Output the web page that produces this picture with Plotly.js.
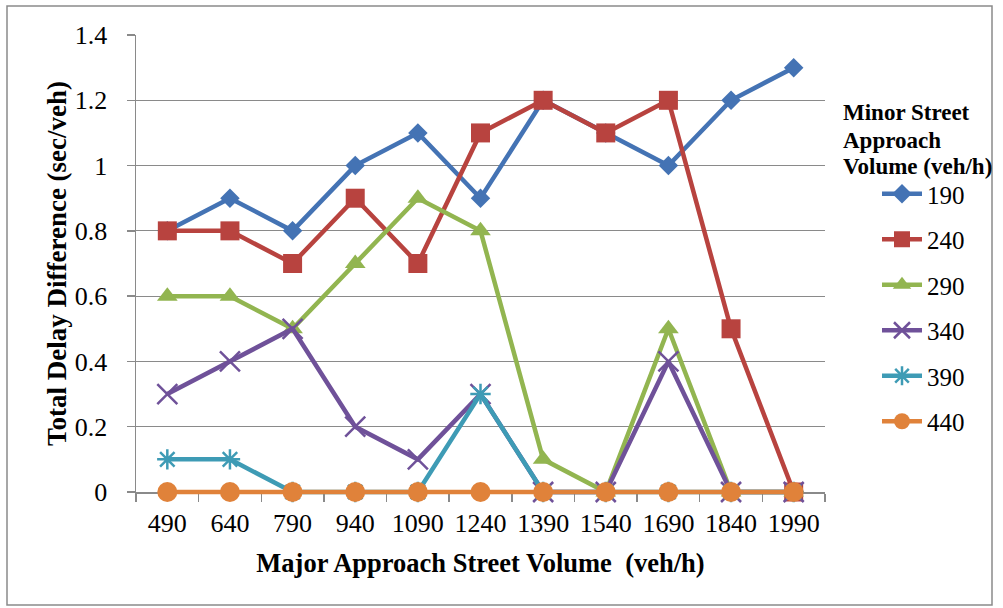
<!DOCTYPE html>
<html>
<head>
<meta charset="utf-8">
<script src="https://cdn.plot.ly/plotly-3.0.1.min.js"></script>
<style>
html,body{margin:0;padding:0;background:#fff;}
#chart{width:1003px;height:608px;}
</style>
</head>
<body>
<div id="chart"></div>
<script>
var categories = ["490","640","790","940","1090","1240","1390","1540","1690","1840","1990"];
var s190 = [0.8,0.9,0.8,1.0,1.1,0.9,1.2,1.1,1.0,1.2,1.3];
var s240 = [0.8,0.8,0.7,0.9,0.7,1.1,1.2,1.1,1.2,0.5,0];
var s290 = [0.6,0.6,0.5,0.7,0.9,0.8,0.1,0,0.5,0,0];
var s340 = [0.3,0.4,0.5,0.2,0.1,0.3,0,0,0.4,0,0];
var s390 = [0.1,0.1,0,0,0,0.3,0,0,0,0,0];
var s440 = [0,0,0,0,0,0,0,0,0,0,0];
var seriesNames = ["190","240","290","340","390","440"];
var legendTitleLines = ["Minor Street","Approach","Volume (veh/h)"];

var specs = [
  {y:s190, color:"#4473B4", symbol:"diamond", size:15, lw:0},
  {y:s240, color:"#B8433F", symbol:"square", size:19, lw:0},
  {y:s290, color:"#92B550", symbol:"triangle-up", size:18, lw:0},
  {y:s340, color:"#6F5199", symbol:"x-thin-open", size:20, lw:2.5},
  {y:s390, color:"#3E9BB5", symbol:"asterisk-open", size:17, lw:2.5},
  {y:s440, color:"#E0823A", symbol:"circle", size:20, lw:0}
];

var traces = specs.map(function(s,i){
  var m = {symbol:s.symbol, size:s.size, color:s.color};
  if (s.lw) m.line = {color:s.color, width:s.lw};
  return {
    x: categories, y: s.y, name: seriesNames[i], type:"scatter", mode:"lines+markers",
    line:{color:s.color, width:4.5}, marker:m, legendgroup:"g"+i, cliponaxis:false
  };
});

var L=136, R=825, T=35, B=492, W=1003, H=608;
var pw=R-L, ph=B-T;
function px(x){return (x-L)/pw;}
function py(y){return (B-y)/ph;}

var FONT = "'Liberation Serif', 'Times New Roman', serif";

var annotations = legendTitleLines.map(function(t,i){
  return {
    xref:"paper", yref:"paper", x:px(841), y:py(113+27*i), xanchor:"left", yanchor:"middle",
    text:"<b>"+t+"</b>", showarrow:false, font:{family:FONT, size:23, color:"#000"}, align:"left"
  };
});

var layout = {
  width:W, height:H,
  margin:{l:L, r:W-R, t:T, b:H-B, pad:0},
  paper_bgcolor:"#fff", plot_bgcolor:"#fff",
  font:{family:FONT, size:25, color:"#000"},
  showlegend:true,
  xaxis:{
    type:"category", range:[-0.5,10.5], showgrid:false, zeroline:false,
    showline:true, linecolor:"#8A8A8A", linewidth:1.5, layer:"below traces",
    ticks:"outside", tickson:"boundaries", ticklen:8, tickcolor:"#8A8A8A", tickwidth:1.5,
    tickfont:{family:FONT, size:26}, ticklabelstandoff:7,
    title:{text:"<b>Major Approach Street Volume&nbsp; (veh/h)</b>", font:{family:FONT, size:26.5}, standoff:16}
  },
  yaxis:{
    range:[0,1.4], dtick:0.2, tick0:0, showgrid:true, gridcolor:"#8A8A8A", gridwidth:1.2,
    zeroline:false, showline:true, linecolor:"#8A8A8A", linewidth:1.5, layer:"below traces",
    ticks:"outside", ticklen:8, tickcolor:"#8A8A8A", tickwidth:1.5,
    tickfont:{family:FONT, size:26}, ticklabelstandoff:14,
    title:{text:"<b>Total Delay Difference (sec/veh)</b>", font:{family:FONT, size:27}, standoff:0}
  },
  legend:{
    x:px(877), xanchor:"left", y:py(171), yanchor:"top",
    bgcolor:"rgba(0,0,0,0)", font:{family:FONT, size:25}, tracegroupgap:10,
    itemwidth:40
  },
  annotations:annotations,
  shapes:[{
    type:"rect", xref:"paper", yref:"paper",
    x0:px(7), x1:px(992), y0:py(605), y1:py(6),
    line:{color:"#8A8A8A", width:1.5}, fillcolor:"rgba(0,0,0,0)", layer:"below"
  }]
};

Plotly.newPlot("chart", traces, layout, {displayModeBar:false, staticPlot:true}).then(function(gd){
  // let the zero-valued lines show their full width instead of being cut at the axis
  var layer = gd.querySelector(".cartesianlayer");
  if (layer) {
    layer.querySelectorAll("[clip-path]").forEach(function(el){ el.removeAttribute("clip-path"); });
  }
});
</script>
</body>
</html>
